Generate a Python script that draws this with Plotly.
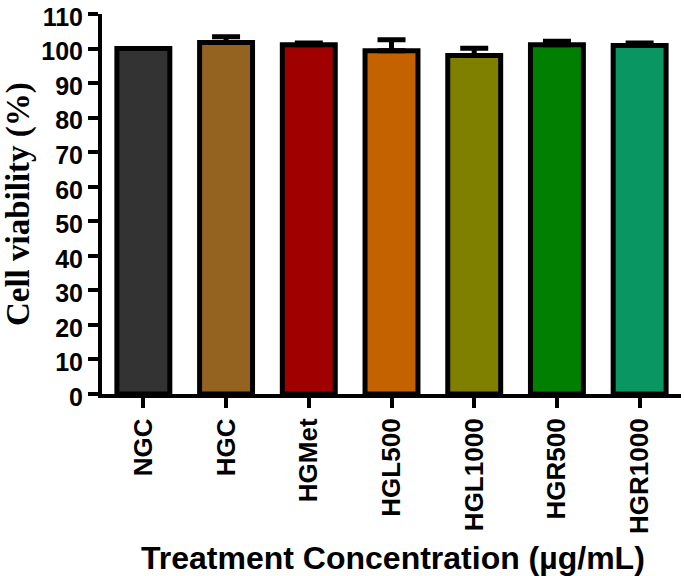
import plotly.graph_objects as go

categories = ["NGC", "HGC", "HGMet", "HGL500", "HGL1000", "HGR500", "HGR1000"]
viability = [100.0, 101.8, 101.1, 99.4, 98.0, 101.1, 100.9]
error_up = [float("nan"), 1.6, 0.5, 3.2, 2.1, 1.0, 0.7]
error_down = [0, 0, 0, 0, 0, 0, 0]
bar_colors = ["#333333", "#94631f", "#a00000", "#c46200", "#7f7f00", "#007f00", "#0a9663"]
y_ticks = list(range(0, 111, 10))

fig = go.Figure()
fig.add_trace(go.Bar(
    x=categories,
    y=viability,
    width=0.64,
    marker=dict(color=bar_colors, line=dict(color="black", width=5)),
    error_y=dict(type="data", symmetric=False, array=error_up, arrayminus=error_down,
                 color="black", thickness=5, width=14, visible=True),
    showlegend=False,
))

sans = "Liberation Sans, Arial, sans-serif"

fig.update_layout(
    width=684, height=576,
    margin=dict(l=101.5, r=2.5, t=14, b=182, autoexpand=False),
    plot_bgcolor="white", paper_bgcolor="white",
    xaxis=dict(
        range=[-0.5, 6.5],
        automargin=False,
        showline=True, linecolor="black", linewidth=4,
        ticks="outside", ticklen=10, tickwidth=4, tickcolor="black",
        tickangle=-90,
        tickvals=categories,
        ticktext=["<b>%s</b>" % c for c in categories],
        tickfont=dict(family=sans, size=26, color="black"),
        showgrid=False, zeroline=False,
    ),
    yaxis=dict(
        range=[0, 110.02],
        automargin=False,
        tickvals=y_ticks,
        ticktext=["<b>%d</b>" % v for v in y_ticks],
        ticklabeloverflow="allow",
        ticklabelshift=3,
        showline=True, linecolor="black", linewidth=4,
        ticks="outside", ticklen=10, tickwidth=4, tickcolor="black",
        tickfont=dict(family=sans, size=25, color="black"),
        showgrid=False, zeroline=False,
    ),
    annotations=[
        dict(text="<b>Cell viability (%)</b>", textangle=-90,
             xref="paper", yref="paper", x=-0.145, y=0.5,
             xanchor="center", yanchor="middle", showarrow=False,
             font=dict(family="Liberation Serif, Times New Roman, serif", size=33, color="black")),
        dict(text="<b>Treatment Concentration (µg/mL)</b>",
             xref="paper", yref="paper", x=0.503, y=-0.432,
             xanchor="center", yanchor="middle", showarrow=False,
             font=dict(family=sans, size=32, color="black")),
    ],
)

fig.write_html("out.html")
